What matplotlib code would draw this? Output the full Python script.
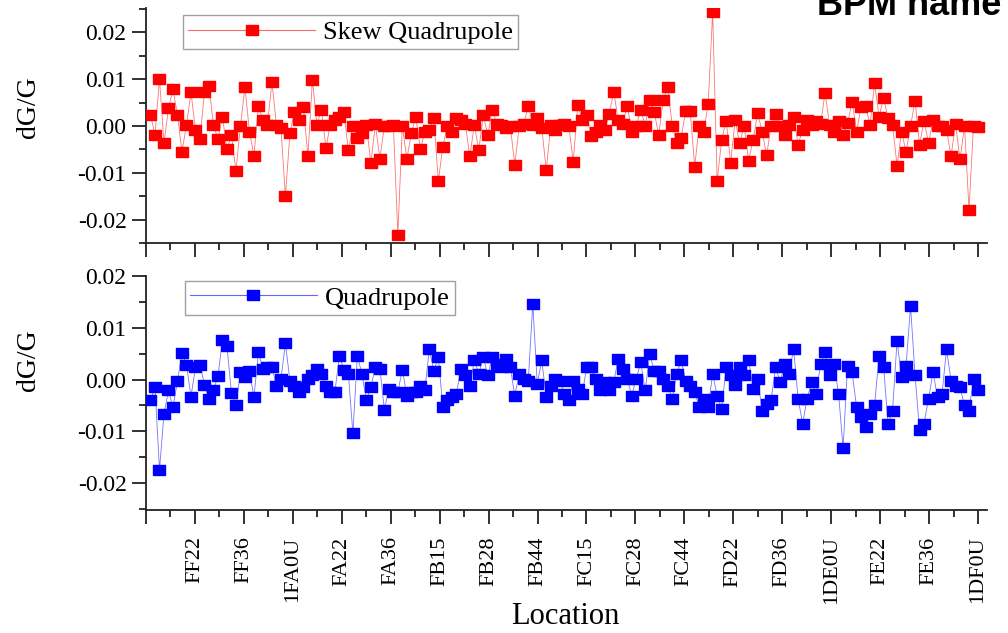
import numpy as np
import matplotlib
matplotlib.use('Agg')
import matplotlib.pyplot as plt
from matplotlib.ticker import FormatStrFormatter, MultipleLocator

plt.rcParams['font.family'] = 'Liberation Serif'
plt.rcParams['axes.unicode_minus'] = False

# dG/G por BPM (skew quadrupole y quadrupole)
skew = [
    0.0023, -0.0019, 0.0101, -0.0036, 0.0038, 0.0078, 0.0023, -0.0055, 0.0002, 0.0072,
    -0.0009, -0.0028, 0.0072, 0.0085, 0.0002, -0.0028, 0.0020, -0.0050, -0.0019, -0.0096,
    0.0000, 0.0084, -0.0012, -0.0064, 0.0043, 0.0013, 0.0002, 0.0094,
    0.0002, -0.0004, -0.0150, -0.0016, 0.0030, 0.0013, 0.0041, -0.0065, 0.0099, 0.0003,
    0.0034, -0.0046, 0.0002, 0.0013, 0.0020, 0.0030, -0.0052, 0.0000, -0.0026, -0.0016,
    0.0002, -0.0079, 0.0004, -0.0070, 0.0000, 0.0000, 0.0003, -0.0232, 0.0001, -0.0071,
    -0.0016, 0.0020, -0.0050, -0.0012, -0.0008, 0.0016, -0.0118,
    -0.0044, 0.0000, -0.0012, 0.0016, 0.0013, 0.0005, -0.0065, 0.0002, -0.0051, 0.0023,
    -0.0019, 0.0035, 0.0004, 0.0002, -0.0004, 0.0000, -0.0083, 0.0000, 0.0004, 0.0043,
    0.0002, 0.0016, -0.0004, -0.0094, 0.0002, -0.0008, 0.0002, 0.0004, 0.0000, -0.0076,
    0.0045, 0.0013, 0.0023, -0.0021, -0.0012, 0.0002, -0.0008, 0.0026, 0.0073, 0.0013,
    0.0004, 0.0043, -0.0012, 0.0000, 0.0035, 0.0001, 0.0055, 0.0030, -0.0019, 0.0055,
    0.0084, 0.0001, -0.0037, -0.0026, 0.0033, 0.0033, -0.0087, 0.0000, -0.0012, 0.0047,
    0.0243, -0.0118,
    -0.0030, 0.0011, -0.0079, 0.0013, -0.0037, 0.0000, -0.0074, -0.0030, 0.0028, -0.0012,
    -0.0062, 0.0000, 0.0026, 0.0000, -0.0019, 0.0002, 0.0020, -0.0040, -0.0008, 0.0013,
    0.0002, 0.0011, 0.0004, 0.0071, 0.0002, -0.0012, 0.0011, -0.0019, 0.0006, 0.0052,
    -0.0012, 0.0041, 0.0043, 0.0002, 0.0091, 0.0020, 0.0060, 0.0016, 0.0002, -0.0085,
    -0.0012, -0.0055, 0.0000, 0.0054, -0.0040, 0.0011, -0.0037, 0.0013, 0.0000, 0.0000,
    -0.0008, -0.0065, 0.0004, -0.0071, 0.0000, -0.0179, 0.0000, -0.0003,
]

quad = [
    -0.0040, -0.0015, -0.0174, -0.0067, -0.0021, -0.0054, -0.0003, 0.0051, 0.0029, -0.0033,
    0.0024, 0.0029, -0.0010, -0.0037, -0.0021, 0.0006, 0.0077, 0.0065, -0.0026, -0.0050,
    0.0014, 0.0004, 0.0017, -0.0034, 0.0053, 0.0021,
    0.0024, 0.0024, -0.0012, 0.0001, 0.0070, -0.0002, -0.0012, -0.0024, -0.0015, 0.0001,
    0.0008, 0.0021, 0.0011, -0.0012, -0.0024, -0.0024, 0.0046, 0.0019, 0.0011, -0.0104,
    0.0046, 0.0011, -0.0040, -0.0015, 0.0025, 0.0021, -0.0058, -0.0018, -0.0024, -0.0024,
    0.0019, -0.0031, -0.0024, -0.0024, -0.0012, -0.0020, 0.0059, 0.0017, 0.0043, -0.0053,
    -0.0040, -0.0034, -0.0028, 0.0021, 0.0008, -0.0012, 0.0037, 0.0011, 0.0043, 0.0008,
    0.0043, 0.0030, 0.0024, 0.0040, 0.0024, -0.0031, 0.0011, 0.0001, -0.0002, 0.0146,
    -0.0008, 0.0037, -0.0034, -0.0012, 0.0001, -0.0002, -0.0028, -0.0040, -0.0002, -0.0018,
    -0.0028, 0.0025, 0.0025, 0.0001, -0.0021, -0.0005, -0.0021, -0.0005, 0.0040, 0.0021,
    0.0001, -0.0031, 0.0001, 0.0033, -0.0021, 0.0049, 0.0017, 0.0017, 0.0001, -0.0012,
    -0.0037, 0.0011, 0.0037, -0.0002, -0.0012, -0.0024, -0.0053, -0.0037, -0.0053, 0.0011,
    -0.0031, -0.0056, 0.0024,
    0.0008, -0.0010, 0.0024, 0.0008, 0.0037, -0.0018, 0.0001, -0.0060, -0.0047, -0.0040,
    0.0024, -0.0005, 0.0030, 0.0011, 0.0059, -0.0037, -0.0085, -0.0037, -0.0005, -0.0028,
    0.0030, 0.0053, 0.0008, 0.0030, -0.0028, -0.0133, 0.0027, 0.0014, -0.0053, -0.0072,
    -0.0092, -0.0066, -0.0050, 0.0046, 0.0025, -0.0085, -0.0060, 0.0075, 0.0004, 0.0027,
    0.0142, 0.0008, -0.0098, -0.0085, -0.0037, 0.0014, -0.0034, -0.0028, 0.0059, -0.0002,
    -0.0012, -0.0015, -0.0050, -0.0060, 0.0001, -0.0021,
]

bpm_labels = ['FF22', 'FF36', '1FA0U', 'FA22', 'FA36', 'FB15', 'FB28', 'FB44', 'FC15',
              'FC28', 'FC44', 'FD22', 'FD36', '1DE0U', 'FE22', 'FE36', '1DF0U']

n = len(skew)
x = np.arange(1, n + 1)
step = n / len(bpm_labels)
major = step * np.arange(len(bpm_labels) + 1)
minor = major[:-1] + step / 2

# marcador rectangular
rect = [(-1.35, -1), (1.35, -1), (1.35, 1), (-1.35, 1), (-1.35, -1)]

fig = plt.figure(figsize=(10.08, 6.33), dpi=100)
ax1 = fig.add_axes([146 / 1008, 1 - 243 / 633, 841 / 1008, 235 / 633])
ax2 = fig.add_axes([146 / 1008, 1 - 510 / 633, 841 / 1008, 234 / 633])

# línea fina y clara entre los puntos, marcadores opacos encima
ax1.plot(x, skew, color='red', lw=0.6, alpha=0.55, zorder=2)
ax1.plot(x, skew, ls='none', marker=rect, ms=9, mec='red', mfc='red', zorder=3)
ax2.plot(x, quad, color='blue', lw=0.6, alpha=0.55, zorder=2)
ax2.plot(x, quad, ls='none', marker=rect, ms=9, mec='blue', mfc='blue', zorder=3)

# entradas de leyenda: línea - marcador - línea
h1, = ax1.plot([], [], color='#ff6666', lw=0.8, marker=rect, ms=9, mec='red', mfc='red')
h2, = ax2.plot([], [], color='#6666ff', lw=0.8, marker=rect, ms=9, mec='blue', mfc='blue')

ax1.set_ylim(-0.025, 0.0252)
ax2.set_ylim(-0.0252, 0.02)

for ax, h, lab in ((ax1, h1, 'Skew Quadrupole'), (ax2, h2, 'Quadrupole')):
    ax.set_xlim(0, 187)
    ax.spines['top'].set_visible(False)
    ax.spines['right'].set_visible(False)
    for s in ('left', 'bottom'):
        ax.spines[s].set_linewidth(1.3)
        ax.spines[s].set_color('#222222')
    ax.set_xticks(major)
    ax.set_xticks(minor, minor=True)
    ax.yaxis.set_major_locator(MultipleLocator(0.01))
    ax.yaxis.set_minor_locator(MultipleLocator(0.005))
    ax.yaxis.set_major_formatter(FormatStrFormatter('%.2f'))
    ax.tick_params(which='major', direction='out', length=10, width=1.3, color='#222222',
                   labelsize=17, pad=4)
    ax.tick_params(which='minor', direction='out', length=5, width=1.3, color='#222222')
    ax.set_ylabel('dG/G', fontsize=20)
    ax.legend([h], [lab], loc='upper left', frameon=True, fancybox=False,
              edgecolor='#888888', handlelength=4.8, numpoints=1, fontsize=19,
              borderpad=0.2, handletextpad=0.3, borderaxespad=0)

ax1.legend_.set_bbox_to_anchor((0.044, 0.97))
ax2.legend_.set_bbox_to_anchor((0.046, 0.979))
ax1.yaxis.set_label_coords(-0.125, 0.58)
ax2.yaxis.set_label_coords(-0.125, 0.64)

ax1.set_xticklabels([])
ax2.set_xticklabels([''] + bpm_labels, rotation=90, fontsize=16)
ax2.tick_params(axis='x', which='major', pad=9)

fig.text(565 / 1008, 1 - 624 / 633, 'Location', fontsize=22, ha='center', va='baseline')
fig.text(817 / 1008, 1 - 15 / 633, 'BPM name', fontsize=26, fontweight='bold',
         family='Liberation Sans', ha='left', va='baseline')

fig.savefig('out.png', dpi=100)
